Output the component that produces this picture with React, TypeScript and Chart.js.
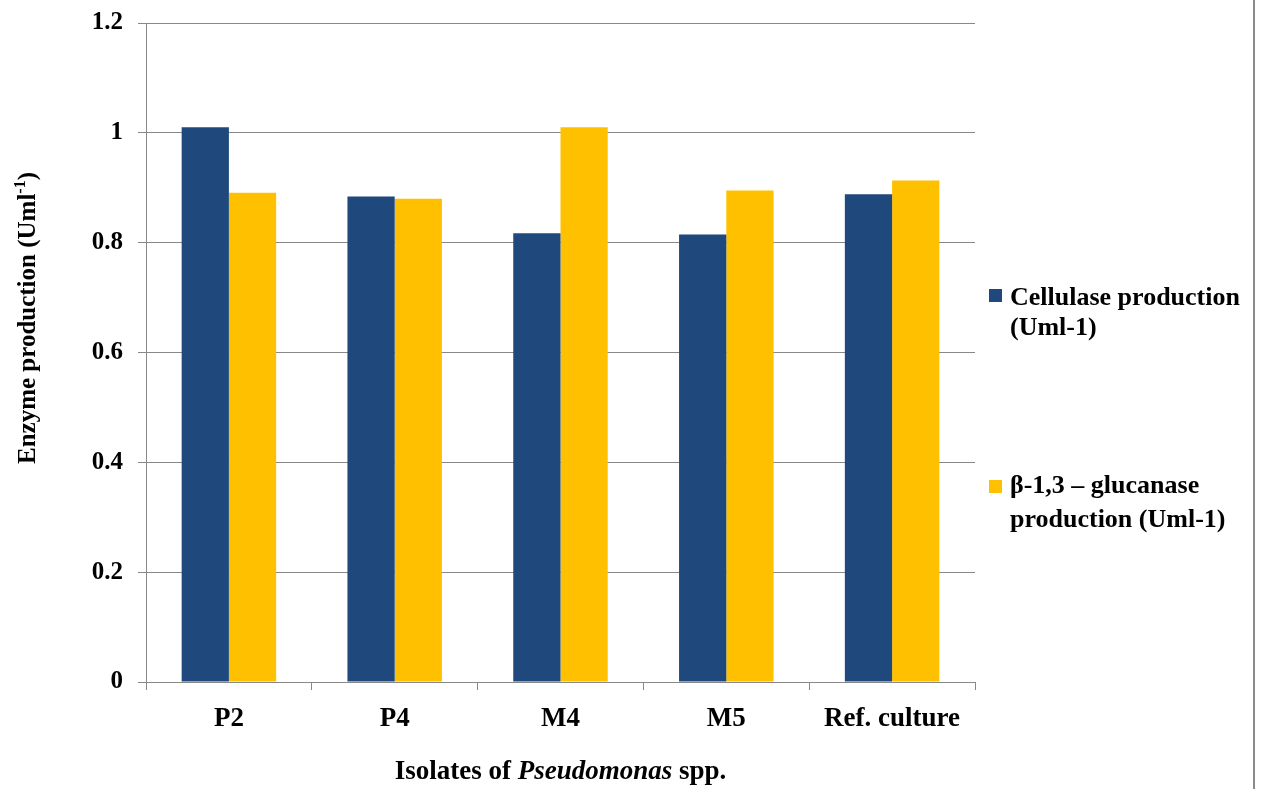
import React, { useEffect, useRef } from "react";
import { Chart, registerables } from "chart.js";

Chart.register(...registerables);

const categories = ["P2", "P4", "M4", "M5", "Ref. culture"];
const cellulase = [1.01, 0.884, 0.817, 0.815, 0.888];
const glucanase = [0.891, 0.88, 1.01, 0.895, 0.913];
const yTicks = [0, 0.2, 0.4, 0.6, 0.8, 1, 1.2];
const seriesLabels = [
  ["Cellulase production", "(Uml-1)"],
  ["β-1,3 – glucanase", "production (Uml-1)"],
];
const seriesColors = ["#1F497D", "#FFC000"];
const xTitleParts = ["Isolates of ", "Pseudomonas", " spp."];
const yTitleParts = ["Enzyme production (Uml", "-1", ")"];

const FAMILY = '"Liberation Serif", "Times New Roman", serif';
const W = 1262;
const H = 789;

const overlayPlugin = {
  id: "overlay",
  afterDraw(chart: any) {
    const ctx = chart.ctx as CanvasRenderingContext2D;
    const area = chart.chartArea;
    ctx.save();
    ctx.fillStyle = "#000";

    // X title with italic genus name
    const fxB = `bold 27px ${FAMILY}`;
    const fxI = `italic bold 27px ${FAMILY}`;
    const fonts = [fxB, fxI, fxB];
    let total = 0;
    const widths = xTitleParts.map((t, i) => {
      ctx.font = fonts[i];
      const w = ctx.measureText(t).width;
      total += w;
      return w;
    });
    let x = (area.left + area.right) / 2 - total / 2;
    ctx.textBaseline = "alphabetic";
    ctx.textAlign = "left";
    xTitleParts.forEach((t, i) => {
      ctx.font = fonts[i];
      ctx.fillText(t, x, 779);
      x += widths[i];
    });

    // Y title, rotated, with superscript
    ctx.save();
    ctx.translate(35, 318);
    ctx.rotate(-Math.PI / 2);
    const fyB = `bold 25px ${FAMILY}`;
    const fyS = `bold 16px ${FAMILY}`;
    const yFonts = [fyB, fyS, fyB];
    const yOff = [0, -10, 0];
    let ytotal = 0;
    const yw = yTitleParts.map((t, i) => {
      ctx.font = yFonts[i];
      const w = ctx.measureText(t).width;
      ytotal += w;
      return w;
    });
    let u = -ytotal / 2;
    yTitleParts.forEach((t, i) => {
      ctx.font = yFonts[i];
      ctx.fillText(t, u, yOff[i]);
      u += yw[i];
    });
    ctx.restore();

    // Legend
    const legendPos = [
      { sq: 289, lines: [305, 335] },
      { sq: 480, lines: [493, 527] },
    ];
    ctx.font = `bold 26px ${FAMILY}`;
    seriesLabels.forEach((lines, i) => {
      ctx.fillStyle = seriesColors[i];
      ctx.fillRect(989, legendPos[i].sq, 13, 13);
      ctx.fillStyle = "#000";
      lines.forEach((ln, j) => {
        ctx.fillText(ln, 1010, legendPos[i].lines[j]);
      });
    });

    // Right frame line
    ctx.fillStyle = "#8a8a8a";
    ctx.fillRect(1253, 0, 2, H);
    ctx.restore();
  },
};

export default function App() {
  const ref = useRef<HTMLCanvasElement | null>(null);

  useEffect(() => {
    if (!ref.current) return;
    const xTickFont = { family: FAMILY, size: 27, weight: "bold" as const };
    const yTickFont = { family: FAMILY, size: 25, weight: "bold" as const };
    const chart = new Chart(ref.current, {
      type: "bar",
      data: {
        labels: categories,
        datasets: [
          {
            label: seriesLabels[0].join(" "),
            data: cellulase,
            backgroundColor: seriesColors[0],
            categoryPercentage: 0.57,
            barPercentage: 1,
          },
          {
            label: seriesLabels[1].join(" "),
            data: glucanase,
            backgroundColor: seriesColors[1],
            categoryPercentage: 0.57,
            barPercentage: 1,
          },
        ],
      },
      options: {
        animation: false,
        responsive: false,
        maintainAspectRatio: false,
        layout: { padding: { left: 0, right: W - 975, top: 23, bottom: 0 } },
        plugins: {
          legend: { display: false },
          tooltip: { enabled: false },
        },
        scales: {
          x: {
            grid: {
              drawOnChartArea: false,
              drawTicks: true,
              tickLength: 8,
              color: "#888",
              offset: true,
            },
            border: { color: "#888", width: 1 },
            ticks: {
              font: xTickFont,
              color: "#000",
              padding: 13,
              maxRotation: 0,
              autoSkip: false,
            },
            afterFit: (s: any) => {
              s.height = H - 682;
              s.paddingLeft = 0;
              s.paddingRight = 0;
            },
          },
          y: {
            min: 0,
            max: 1.2,
            afterBuildTicks: (s: any) => {
              s.ticks = yTicks.map((v) => ({ value: v }));
            },
            grid: { color: "#888", tickLength: 8, lineWidth: 1 },
            border: { color: "#888", width: 1 },
            ticks: {
              font: yTickFont,
              color: "#000",
              padding: 15,
              callback: (v: any) => String(Math.round(Number(v) * 10) / 10),
            },
            afterFit: (s: any) => {
              s.width = 146;
              s.paddingTop = 0;
              s.paddingBottom = 0;
            },
          },
        },
      },
      plugins: [overlayPlugin],
    });
    return () => chart.destroy();
  }, []);

  return (
    <div
      style={{
        position: "fixed",
        left: 0,
        top: 0,
        width: W,
        height: H,
        background: "#fff",
      }}
    >
      <canvas ref={ref} width={W} height={H} style={{ display: "block", width: W, height: H }} />
    </div>
  );
}
